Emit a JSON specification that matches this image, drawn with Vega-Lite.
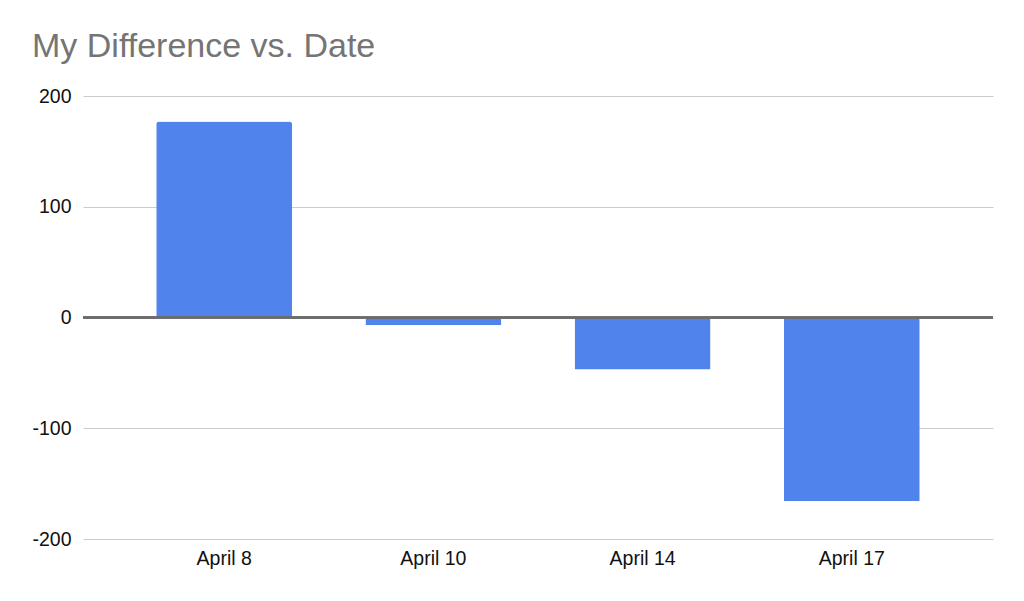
{
  "$schema": "https://vega.github.io/schema/vega-lite/v6.json",
  "autosize": {"type": "none"},
  "width": 910,
  "height": 443,
  "padding": {"left": 83, "top": 96, "right": 31, "bottom": 62},
  "background": "white",
  "title": {
    "text": "My Difference vs. Date",
    "anchor": "start",
    "frame": "group",
    "dx": -51,
    "offset": 22,
    "fontSize": 34,
    "font": "Liberation Sans",
    "fontWeight": "normal",
    "color": "#757575"
  },
  "data": {
    "values": [
      {"date": "April 8", "diff": 177},
      {"date": "April 10", "diff": -7},
      {"date": "April 14", "diff": -47},
      {"date": "April 17", "diff": -166}
    ]
  },
  "config": {
    "view": {"stroke": null},
    "font": "Liberation Sans",
    "axis": {"labelFont": "Liberation Sans", "labelColor": "#111111"}
  },
  "layer": [
    {
      "mark": {"type": "bar", "color": "#5084EC", "cornerRadiusEnd": 3},
      "encoding": {
        "x": {
          "field": "date",
          "type": "nominal",
          "sort": null,
          "scale": {"paddingInner": 0.35, "paddingOuter": 0.35},
          "axis": {"title": null, "labelAngle": 0, "domain": false, "ticks": false, "labelFontSize": 19.5, "labelPadding": 10}
        },
        "y": {
          "field": "diff",
          "type": "quantitative",
          "scale": {"domain": [-200, 200], "nice": false},
          "axis": {"title": null, "values": [-200, -100, 0, 100, 200], "labelExpr": "'' + datum.value", "domain": false, "ticks": false, "gridColor": "#cccccc", "gridWidth": 1, "labelFontSize": 19.5, "labelPadding": 12}
        }
      }
    },
    {
      "mark": {"type": "rule", "color": "#6b6b6b", "strokeWidth": 2},
      "encoding": {"y": {"datum": 0}}
    }
  ]
}
